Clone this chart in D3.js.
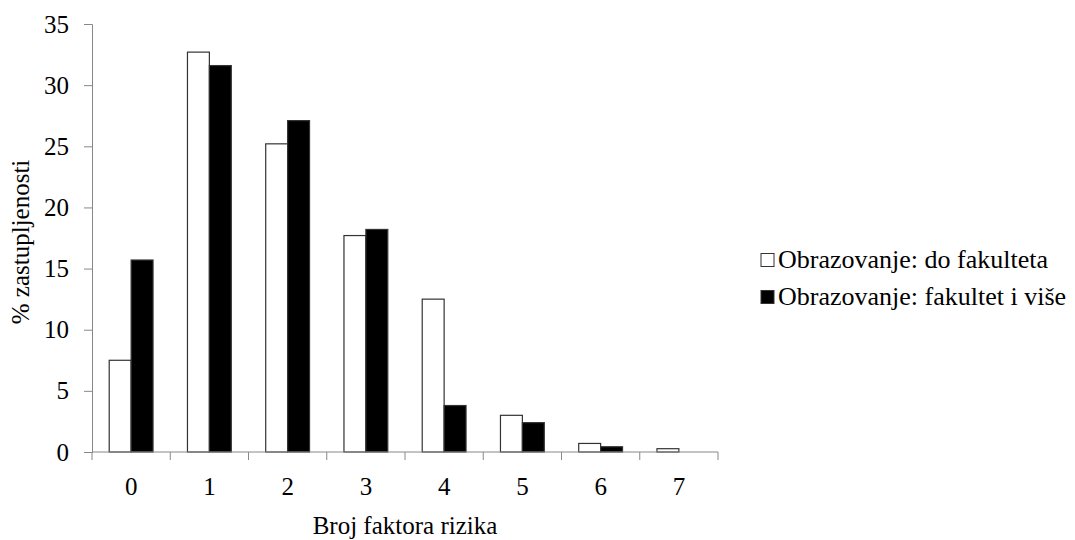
<!DOCTYPE html>
<html><head><meta charset="utf-8">
<script src="https://cdn.jsdelivr.net/npm/d3@7"></script>
<style>body{margin:0;background:#fff}</style>
</head><body>
<svg id="c" width="1075" height="540"></svg>
<script>
const categories = ["0","1","2","3","4","5","6","7"];
const seriesNames = ["Obrazovanje: do fakulteta","Obrazovanje: fakultet i više"];
const doFakulteta = [7.5, 32.7, 25.2, 17.7, 12.5, 3.0, 0.7, 0.27];
const fakultetIVise = [15.7, 31.6, 27.1, 18.2, 3.8, 2.4, 0.43, 0];
const yTicks = [0,5,10,15,20,25,30,35];

(function(){
const svg = d3.select("#c");
const font = "'Liberation Serif', 'Times New Roman', serif";
const fs = 25;
const mLeft = 92, mRight = 718, mTop = 24, mBottom = 452;
const x = d3.scaleBand().domain(categories).range([mLeft, mRight]).paddingInner(0.44).paddingOuter(0.22);
const x1 = d3.scaleBand().domain([0,1]).range([0, x.bandwidth()]);
const y = d3.scaleLinear().domain([0,35]).range([mBottom, mTop]);
const fills = ["#fff","#000"];
const data = [doFakulteta, fakultetIVise];

data.forEach((vals, si) => {
  svg.append("g").selectAll("rect").data(vals.map((v,i)=>({c:categories[i],v})).filter(d=>d.v>0))
    .join("rect")
    .attr("x", d => x(d.c) + x1(si))
    .attr("y", d => y(d.v))
    .attr("width", x1.bandwidth())
    .attr("height", d => y(0) - y(d.v))
    .attr("fill", fills[si])
    .attr("stroke", "#333").attr("stroke-width", 1.2);
});

const ya = svg.append("g").attr("transform", `translate(${mLeft},0)`)
  .call(d3.axisLeft(y).tickValues(yTicks).tickSize(8).tickPadding(15));
ya.select(".domain").attr("stroke", "#888");
ya.selectAll(".tick line").attr("stroke", "#888");
ya.selectAll("text").attr("font-family", font).attr("font-size", fs).attr("fill", "#000");

const xa = svg.append("g").attr("transform", `translate(0,${mBottom})`);
xa.append("line").attr("x1", mLeft).attr("x2", mRight).attr("y1", 0).attr("y2", 0).attr("stroke", "#888");
const stepW = (mRight - mLeft) / categories.length;
const bounds = d3.range(categories.length + 1).map(i => mLeft + i*stepW);
xa.selectAll("line.t").data(bounds).join("line").attr("class","t")
  .attr("x1", d=>d).attr("x2", d=>d).attr("y1", 0).attr("y2", 8).attr("stroke", "#888");
xa.selectAll("text").data(categories).join("text")
  .attr("x", d => x(d) + x.bandwidth()/2).attr("y", 495 - mBottom)
  .attr("text-anchor", "middle")
  .attr("font-family", font).attr("font-size", fs).text(d => d);

svg.append("text").attr("x", (mLeft+mRight)/2).attr("y", 534).attr("text-anchor","middle")
  .attr("font-family", font).attr("font-size", fs).text("Broj faktora rizika");
svg.append("text").attr("transform", "translate(29,242) rotate(-90)").attr("text-anchor","middle")
  .attr("font-family", font).attr("font-size", fs).text("% zastupljenosti");

const lg = svg.append("g");
seriesNames.forEach((n, i) => {
  const ly = 260 + i*37;
  lg.append("rect").attr("x", 761).attr("y", ly-6.5).attr("width", 13).attr("height", 13)
    .attr("fill", fills[i]).attr("stroke", "#333").attr("stroke-width", 1);
  lg.append("text").attr("x", 778).attr("y", ly + 8)
    .attr("font-family", font).attr("font-size", 26).text(n);
});
})();
</script>
</body></html>
